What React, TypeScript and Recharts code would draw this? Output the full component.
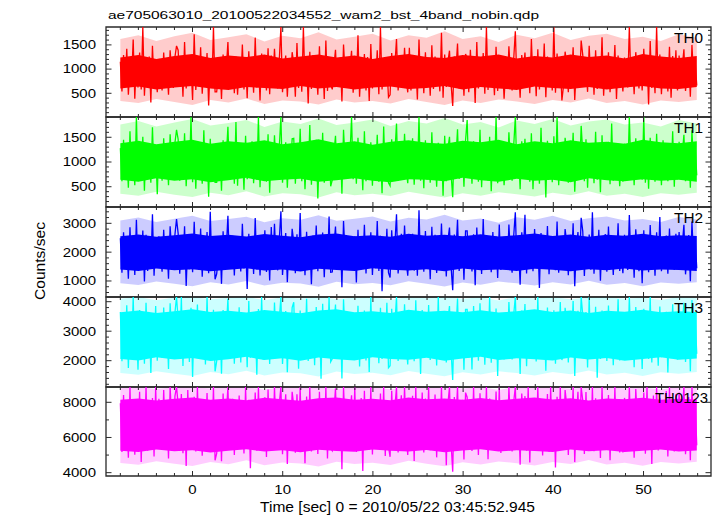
import React from 'react';
import { ComposedChart, Line, Area, XAxis, YAxis, ReferenceArea } from 'recharts';

const FONT = '"Liberation Sans", Arial, Helvetica, sans-serif';
const FRAME = '#2a2a2a';

// time grid (seconds from 2010/05/22 03:45:52.945)
const T0 = -8.0;
const DT = 0.178;
const BAND_T0 = -8.0;
const BAND_DT = 1.997;
const X_DOMAIN: [number, number] = [-9.59, 57.48];
const X_TICKS = [-8, -6, -4, -2, 0, 2, 4, 6, 8, 10, 12, 14, 16, 18, 20, 22, 24, 26, 28, 30, 32, 34, 36, 38, 40, 42, 44, 46, 48, 50, 52, 54, 56];
const X_MAJOR = [0, 10, 20, 30, 40, 50];

const TH0 = [
  1150, 540, 1290, 680, 1420, 470, 1080, 760, 1610, 390, 1230, 620,
  1340, 580, 1870, 450, 1120, 700, 1260, 310, 1480, 650, 1010, 520,
  1210, 880, 560, 1340, 720, 1050, 470, 1390, 940, 610, 1250, 1480,
  1390, 730, 1190, 430, 1560, 600, 1270, 680, 1090, 360, 1720, 570,
  1210, 640, 1450, 490, 1130, 720, 1330, 250, 1180, 610, 1870, 530,
  530, 860, 1170, 380, 1300, 690, 1020, 1560, 640, 910, 1230, 500,
  1260, 470, 1080, 690, 1510, 580, 1240, 400, 1370, 660, 1150, 510,
  1650, 620, 1200, 350, 1320, 740, 1060, 560, 1430, 480, 1280, 700,
  1420, 780, 600, 1190, 1870, 520, 990, 1280, 430, 1110, 730, 1350,
  1110, 430, 1540, 610, 1250, 530, 1870, 660, 1170, 290, 1360, 590,
  1290, 700, 1040, 470, 1470, 620, 1220, 380, 1590, 550, 1140, 680,
  580, 1060, 1400, 690, 820, 1240, 330, 1510, 900, 640, 1180, 1020,
  1380, 510, 1190, 640, 1700, 430, 1100, 710, 1310, 560, 1250, 340,
  1520, 600, 1160, 690, 1390, 480, 1870, 580, 1230, 650, 1070, 420,
  470, 1330, 760, 1090, 1620, 560, 950, 1270, 620, 1440, 810, 520,
  1440, 560, 1280, 730, 1120, 370, 1610, 620, 1210, 500, 1350, 680,
  1180, 450, 1490, 590, 1260, 710, 1050, 540, 1750, 410, 1300, 630,
  1150, 1380, 680, 240, 1260, 970, 1530, 600, 840, 1200, 450, 1310,
  1220, 520, 1400, 670, 1140, 300, 1560, 600, 1190, 720, 1330, 490,
  1870, 570, 1240, 640, 1090, 460, 1460, 550, 1270, 680, 1130, 390,
  1000, 630, 1470, 870, 560, 1220, 1780, 700, 1050, 410, 1290, 930,
  1340, 610, 1190, 500, 1620, 700, 1220, 440, 1410, 580, 1080, 660,
  1530, 420, 1260, 690, 1150, 560, 1870, 510, 1320, 620, 1200, 350,
  650, 1360, 1110, 520, 1190, 800, 1450, 360, 1020, 1270, 690, 1590,
  1290, 640, 1060, 530, 1480, 710, 1240, 470, 1390, 590, 1170, 680,
  1660, 450, 1210, 600, 1350, 520, 1110, 730, 1500, 380, 1280, 640,
  880, 540, 1240, 1030, 620, 1870, 760, 1130, 480, 1350, 940, 600,
  1180, 560, 1420, 690, 1250, 270, 1580, 610, 1140, 500, 1870, 620,
  1300, 480, 1230, 670, 1100, 540, 1460, 410, 1270, 650, 1390, 560,
  1280, 710, 1060, 1410, 550, 920, 1230, 430, 1500, 820, 1160, 660,
];

const TH1 = [
  1280, 610, 1450, 720, 1190, 480, 1620, 690, 1340, 530, 1910, 640,
  1230, 760, 1510, 420, 1380, 650, 1150, 580, 1700, 700, 1260, 350,
  1350, 980, 620, 1480, 760, 1200, 530, 1560, 1010, 680, 1390, 1650,
  1460, 620, 1320, 740, 1580, 510, 1210, 680, 1910, 590, 1300, 460,
  1390, 700, 1170, 560, 1640, 630, 1280, 300, 1470, 710, 1240, 590,
  590, 940, 1300, 420, 1440, 750, 1120, 1710, 700, 1010, 1360, 560,
  1810, 520, 1350, 680, 1200, 440, 1530, 650, 1310, 760, 1420, 570,
  1250, 640, 1910, 490, 1370, 720, 1160, 600, 1560, 380, 1290, 690,
  1540, 850, 660, 1310, 1910, 580, 1090, 1400, 480, 1230, 800, 1470,
  1480, 560, 1220, 730, 1670, 610, 1340, 450, 1190, 660, 1750, 540,
  1320, 700, 1450, 260, 1270, 620, 1590, 580, 1210, 740, 1380, 510,
  640, 1170, 1530, 760, 900, 1360, 360, 1650, 990, 710, 1300, 1120,
  1910, 650, 1300, 560, 1490, 700, 1180, 430, 1620, 610, 1260, 680,
  1400, 520, 1330, 750, 1550, 600, 1240, 370, 1720, 660, 1290, 580,
  520, 1460, 840, 1200, 1780, 620, 1050, 1390, 680, 1570, 890, 570,
  1170, 690, 1480, 540, 1360, 710, 1910, 620, 1250, 470, 1440, 640,
  1310, 580, 1600, 730, 1200, 500, 1390, 660, 1280, 320, 1530, 610,
  1270, 1510, 750, 290, 1380, 1070, 1660, 660, 930, 1320, 500, 1440,
  1850, 680, 1270, 560, 1420, 720, 1190, 600, 1650, 490, 1340, 750,
  1230, 620, 1510, 410, 1300, 690, 1910, 570, 1380, 640, 1160, 530,
  1100, 700, 1600, 960, 620, 1340, 1910, 770, 1160, 450, 1420, 1020,
  1470, 710, 1260, 600, 1580, 450, 1320, 680, 1210, 560, 1690, 640,
  1350, 280, 1430, 700, 1240, 590, 1520, 660, 1910, 530, 1290, 720,
  720, 1490, 1220, 580, 1310, 880, 1590, 400, 1130, 1400, 760, 1730,
  1190, 610, 1460, 480, 1370, 690, 1250, 570, 1610, 640, 1330, 390,
  1540, 660, 1220, 730, 1410, 550, 1780, 620, 1280, 700, 1180, 510,
  970, 600, 1370, 1140, 680, 1910, 840, 1250, 530, 1480, 1040, 660,
  1390, 640, 1910, 580, 1310, 460, 1490, 710, 1240, 600, 1570, 680,
  1260, 530, 1440, 690, 1350, 610, 1200, 720, 1620, 500, 1320, 650,
  1410, 790, 1170, 1550, 610, 1010, 1350, 480, 1640, 900, 1280, 730,
];

const TH2 = [
  2480, 1290, 2690, 1520, 2310, 1080, 2860, 1440, 2550, 1210, 3120, 1390,
  2400, 1560, 2750, 980, 2600, 1350, 2280, 1470, 3310, 1180, 2520, 1620,
  2550, 1900, 1320, 2780, 1560, 2240, 1080, 2900, 2010, 1420, 2610, 3150,
  2650, 1250, 2430, 1500, 2900, 830, 2370, 1410, 2580, 1300, 3050, 1540,
  2290, 1380, 2820, 1150, 2470, 1600, 2700, 1270, 3400, 1450, 2360, 1060,
  1250, 1820, 2480, 900, 2720, 1530, 2130, 3260, 1460, 1950, 2570, 1190,
  2560, 1520, 2410, 1330, 2980, 1430, 2300, 720, 2640, 1560, 2450, 1240,
  3180, 1400, 2530, 1190, 2380, 1580, 2760, 1310, 2490, 1020, 2870, 1480,
  2980, 1700, 1370, 2450, 3420, 1210, 2060, 2660, 960, 2330, 1600, 2810,
  2340, 1270, 2620, 1540, 3360, 1360, 2440, 1200, 2710, 1460, 2390, 890,
  2580, 1510, 2920, 1340, 2310, 1590, 2680, 1130, 2470, 1420, 3240, 1300,
  1310, 2200, 2890, 1510, 1760, 2590, 780, 3080, 1880, 1390, 2470, 2150,
  2420, 1560, 2550, 950, 2780, 1380, 2350, 1490, 2950, 1260, 2500, 1610,
  2690, 1210, 2400, 1440, 3080, 1350, 2570, 640, 2460, 1530, 2810, 1290,
  1120, 2760, 1640, 2280, 3310, 1260, 1990, 2640, 1420, 2920, 1720, 1180,
  2330, 1470, 2640, 1360, 2520, 1180, 3450, 1500, 2390, 1320, 2730, 1570,
  2450, 1060, 2880, 1410, 2600, 1280, 2310, 1550, 2990, 1370, 2480, 1160,
  2420, 2850, 1480, 680, 2610, 2020, 3120, 1350, 1790, 2530, 1040, 2740,
  2740, 1480, 2360, 1330, 2620, 850, 2850, 1520, 2430, 1240, 3150, 1400,
  2510, 1590, 2280, 1300, 2700, 1450, 2540, 1100, 2960, 1380, 2410, 1530,
  2090, 1400, 2960, 1830, 1290, 2580, 3380, 1530, 2180, 870, 2690, 1960,
  3300, 1260, 2590, 1470, 2370, 1340, 2800, 1560, 2450, 760, 2660, 1420,
  2380, 1510, 2910, 1230, 2550, 1600, 2320, 1370, 3060, 1290, 2490, 1460,
  1450, 2800, 2330, 1200, 2520, 1710, 3000, 820, 2150, 2700, 1490, 3190,
  2720, 1170, 2440, 1530, 2610, 1390, 3380, 1250, 2360, 1580, 2780, 1010,
  2470, 1440, 2630, 1320, 2890, 1500, 2300, 1210, 2540, 1570, 3000, 1350,
  1860, 1270, 2600, 2190, 1380, 3290, 1670, 2380, 1110, 2790, 2000, 1340,
  2410, 920, 2760, 1480, 2520, 1300, 2940, 1550, 2380, 1180, 2690, 1420,
  3220, 1340, 2460, 1590, 2580, 1250, 2820, 1470, 2350, 1380, 2640, 1520,
  2700, 1580, 2270, 2950, 1230, 1940, 2590, 990, 3060, 1750, 2450, 1440,
];

const TH3 = [
  3650, 1980, 3420, 2260, 3880, 1750, 3510, 2140, 4159, 2050, 3330, 1690,
  3720, 2200, 3480, 1900, 3960, 2310, 3570, 1580, 3410, 2120, 3850, 2000,
  3560, 2850, 2100, 3800, 2380, 3250, 1720, 3950, 2900, 2200, 3620, 4159,
  3390, 2250, 4159, 1820, 3620, 2170, 3450, 1960, 3790, 1450, 3540, 2230,
  3900, 2080, 3360, 2290, 3680, 1870, 4159, 2150, 3500, 2010, 3730, 1640,
  1980, 2700, 3480, 1560, 3720, 2330, 3090, 4100, 2240, 2880, 3550, 1900,
  3440, 2190, 3810, 1940, 3560, 2270, 3400, 1780, 4020, 2100, 3620, 2240,
  3370, 1520, 3750, 2160, 4159, 2030, 3490, 2300, 3640, 1890, 3420, 2120,
  3970, 2600, 2140, 3430, 4159, 1890, 3000, 3680, 1610, 3320, 2450, 3800,
  3980, 2220, 3530, 1730, 3700, 2060, 3380, 2280, 4100, 1990, 3590, 2150,
  3460, 1850, 3820, 2240, 3550, 1390, 3930, 2090, 3410, 2200, 4159, 1960,
  2060, 3180, 3900, 2360, 2640, 3590, 1400, 4080, 2790, 2160, 3470, 3120,
  3600, 2270, 3390, 2040, 3860, 1800, 3520, 2180, 3700, 2010, 3450, 1620,
  4159, 2130, 3580, 2250, 3430, 1910, 3790, 2060, 3510, 2290, 3960, 1760,
  1830, 3760, 2500, 3280, 4159, 1990, 2950, 3660, 2230, 3910, 2580, 1870,
  3480, 2170, 3660, 1980, 4050, 2230, 3400, 1550, 3720, 2100, 3540, 2270,
  3890, 2020, 3460, 2190, 3630, 1840, 4159, 2140, 3370, 2260, 3580, 1940,
  3400, 3850, 2290, 1350, 3610, 2980, 4110, 2120, 2700, 3520, 1690, 3740,
  3740, 2110, 3420, 1700, 3850, 2280, 3510, 2000, 3950, 2170, 3440, 1860,
  3610, 2250, 4159, 1930, 3490, 2080, 3770, 1480, 3560, 2220, 3390, 2040,
  3050, 2200, 3990, 2760, 2040, 3570, 4159, 2380, 3150, 1550, 3700, 2890,
  3920, 1810, 3540, 2160, 3680, 2300, 3430, 1970, 4159, 2090, 3600, 2210,
  3470, 1660, 3800, 2050, 3520, 2240, 3710, 1900, 3380, 2150, 3990, 2020,
  2270, 3790, 3330, 1940, 3500, 2620, 4020, 1480, 3110, 3690, 2310, 4159,
  3550, 2270, 3650, 1770, 4159, 2110, 3460, 2190, 3830, 1420, 3500, 2060,
  3700, 2230, 3410, 1990, 3870, 2140, 3590, 1850, 3480, 2280, 4080, 2010,
  2810, 2030, 3600, 3170, 2150, 4159, 2530, 3370, 1780, 3820, 2960, 2120,
  3430, 1720, 3760, 2170, 3540, 2060, 4159, 1940, 3620, 2250, 3390, 1830,
  3840, 2120, 3500, 2200, 3660, 1600, 3450, 2080, 3910, 2190, 3570, 2030,
  3700, 2420, 3240, 3960, 1960, 2890, 3580, 1640, 4060, 2670, 3430, 2230,
];

const TH0123 = [
  7950, 5180, 8420, 5560, 7700, 4850, 8870, 5390, 8100, 5020, 7820, 5610,
  8600, 4600, 8030, 5470, 8870, 5250, 7760, 5690, 8250, 4920, 8870, 5350,
  8200, 6900, 5450, 8700, 5900, 7600, 4800, 8870, 7000, 5500, 8350, 8870,
  7880, 5580, 8470, 5100, 8020, 4380, 8700, 5440, 7940, 5630, 8320, 5200,
  8870, 5520, 7830, 4960, 8190, 5660, 8530, 5290, 7750, 5480, 8870, 4700,
  5100, 6600, 8100, 4650, 8500, 5850, 7300, 8870, 5600, 6850, 8200, 5000,
  8060, 5370, 8380, 5610, 7910, 5090, 8870, 5500, 8150, 4250, 7990, 5580,
  8550, 5240, 8870, 5430, 7870, 5670, 8280, 4890, 8720, 5340, 8010, 5560,
  8870, 6300, 5400, 7950, 8870, 5050, 7100, 8450, 4500, 7700, 5950, 8600,
  7800, 5130, 8460, 5600, 8870, 5280, 7950, 4530, 8330, 5490, 8870, 5200,
  8120, 5650, 7860, 5060, 8600, 5410, 8050, 5590, 8870, 4800, 7930, 5360,
  5250, 7400, 8800, 5800, 6350, 8250, 4200, 8870, 6700, 5450, 8050, 7350,
  8400, 5520, 8870, 5170, 7780, 5620, 8240, 4100, 8650, 5450, 8000, 5300,
  8870, 5040, 8170, 5580, 7900, 5390, 8500, 5680, 8870, 4950, 8090, 5470,
  4900, 8650, 6100, 7750, 8870, 5150, 6950, 8400, 5700, 8870, 6200, 5000,
  7970, 5600, 8370, 4660, 8870, 5330, 7820, 5540, 8560, 5150, 8220, 5640,
  8870, 5270, 8030, 5500, 8440, 4870, 7880, 5610, 8870, 5380, 8140, 4420,
  7900, 8870, 5650, 4050, 8300, 7000, 8870, 5350, 6500, 8150, 4750, 8550,
  8290, 5560, 7930, 5230, 8870, 5660, 8070, 5010, 8520, 5440, 7850, 5590,
  8870, 4760, 8210, 5480, 8010, 5310, 8620, 5570, 8870, 5120, 7960, 5650,
  7150, 5500, 8870, 6750, 5200, 8050, 8870, 5800, 7250, 4450, 8500, 6850,
  8350, 5250, 8870, 4580, 7840, 5530, 8180, 5400, 8870, 5690, 8060, 4980,
  7990, 5620, 8470, 5190, 8870, 5460, 7920, 4300, 8310, 5580, 8870, 5330,
  5600, 8700, 7850, 5000, 8000, 6250, 8870, 4600, 7200, 8600, 5750, 8870,
  8100, 5060, 8590, 5640, 7870, 5370, 8870, 5220, 8230, 5510, 8020, 4830,
  8870, 5440, 8130, 5600, 8410, 4700, 7950, 5290, 8870, 5560, 8170, 5150,
  6700, 5150, 8250, 7400, 5450, 8870, 6150, 7900, 4850, 8750, 7050, 5300,
  7900, 5670, 8560, 5080, 8870, 5420, 8040, 4490, 8380, 5610, 8870, 5260,
  8260, 5530, 7980, 5340, 8640, 4920, 8870, 5590, 8090, 5200, 8450, 5620,
  8550, 5900, 7550, 8870, 5050, 6800, 8300, 4700, 8870, 6400, 7900, 5550,
];

// dense core of each light curve (lower / upper edge, every ~2 s)
const TH0_LO = [600, 640, 580, 620, 650, 600, 570, 630, 610, 590, 650, 600, 630, 580, 620, 640, 590, 610, 650, 580, 630, 600, 570, 640, 610, 590, 630, 580, 620, 650, 600, 590, 630];
const TH0_HI = [1240, 1290, 1210, 1270, 1310, 1230, 1280, 1250, 1300, 1220, 1260, 1300, 1240, 1280, 1210, 1270, 1310, 1250, 1230, 1290, 1260, 1300, 1220, 1270, 1240, 1300, 1250, 1280, 1220, 1310, 1260, 1230, 1270];
const TH1_LO = [640, 600, 670, 620, 650, 590, 630, 680, 610, 640, 660, 600, 630, 670, 620, 590, 650, 640, 610, 680, 630, 600, 660, 620, 640, 590, 670, 630, 610, 650, 620, 640, 600];
const TH1_HI = [1380, 1430, 1360, 1410, 1450, 1370, 1420, 1390, 1440, 1360, 1400, 1460, 1380, 1420, 1350, 1410, 1440, 1390, 1370, 1430, 1400, 1450, 1360, 1420, 1380, 1440, 1390, 1410, 1370, 1450, 1400, 1380, 1420];
const TH2_LO = [1400, 1350, 1430, 1370, 1410, 1340, 1390, 1440, 1360, 1400, 1330, 1420, 1380, 1350, 1440, 1390, 1360, 1410, 1340, 1430, 1370, 1400, 1350, 1420, 1390, 1340, 1410, 1370, 1430, 1360, 1400, 1380, 1350];
const TH2_HI = [2550, 2610, 2530, 2590, 2650, 2560, 2600, 2540, 2630, 2570, 2520, 2610, 2650, 2550, 2590, 2530, 2640, 2570, 2600, 2550, 2620, 2540, 2590, 2650, 2560, 2610, 2530, 2600, 2570, 2640, 2550, 2590, 2560];
const TH3_LO = [2060, 2010, 2120, 2040, 2090, 1990, 2050, 2130, 2020, 2080, 2000, 2110, 2050, 2010, 2120, 2060, 2030, 2100, 2000, 2070, 2130, 2020, 2080, 2050, 2010, 2110, 2040, 2090, 2000, 2060, 2120, 2030, 2070];
const TH3_HI = [3640, 3700, 3620, 3680, 3740, 3650, 3690, 3630, 3720, 3660, 3610, 3700, 3740, 3640, 3680, 3620, 3730, 3660, 3690, 3640, 3710, 3630, 3680, 3740, 3650, 3700, 3620, 3690, 3660, 3730, 3640, 3680, 3650];
const TH0123_LO = [5250, 5180, 5320, 5220, 5280, 5150, 5240, 5330, 5200, 5270, 5160, 5300, 5230, 5190, 5320, 5250, 5210, 5290, 5160, 5260, 5330, 5200, 5270, 5230, 5180, 5310, 5220, 5280, 5170, 5250, 5320, 5210, 5260];
const TH0123_HI = [8150, 8220, 8100, 8200, 8280, 8140, 8210, 8120, 8260, 8170, 8090, 8230, 8280, 8150, 8200, 8110, 8270, 8180, 8210, 8140, 8250, 8120, 8200, 8280, 8160, 8230, 8100, 8210, 8170, 8260, 8150, 8200, 8160];

// sparse outer fringe of each light curve (lower / upper edge, every ~2 s)
const TH0_OUT_LO = [340, 300, 380, 320, 260, 360, 310, 390, 280, 350, 330, 270, 370, 310, 340, 290, 380, 320, 260, 350, 300, 370, 330, 280, 360, 310, 390, 300, 340, 270, 350, 320, 360];
const TH0_OUT_HI = [1620, 1700, 1580, 1680, 1750, 1600, 1660, 1720, 1570, 1690, 1640, 1760, 1610, 1670, 1730, 1590, 1700, 1650, 1780, 1620, 1680, 1560, 1710, 1640, 1750, 1600, 1690, 1730, 1620, 1670, 1580, 1720, 1650];
const TH1_OUT_LO = [360, 320, 400, 340, 290, 380, 330, 410, 300, 370, 350, 280, 390, 330, 360, 310, 400, 340, 280, 370, 320, 390, 350, 300, 380, 330, 410, 320, 360, 290, 370, 340, 380];
const TH1_OUT_HI = [1760, 1830, 1720, 1800, 1870, 1740, 1790, 1850, 1710, 1820, 1770, 1880, 1750, 1800, 1860, 1730, 1830, 1780, 1890, 1760, 1810, 1700, 1840, 1770, 1870, 1740, 1820, 1860, 1760, 1800, 1720, 1850, 1780];
const TH2_OUT_LO = [920, 860, 980, 900, 820, 960, 880, 1000, 840, 940, 910, 800, 970, 890, 930, 850, 990, 900, 810, 950, 870, 980, 920, 840, 960, 880, 1010, 870, 930, 820, 950, 900, 960];
const TH2_OUT_HI = [3100, 3200, 3050, 3160, 3260, 3080, 3150, 3230, 3040, 3180, 3120, 3280, 3090, 3160, 3240, 3060, 3190, 3130, 3300, 3100, 3170, 3020, 3210, 3120, 3260, 3080, 3180, 3240, 3100, 3150, 3050, 3220, 3130];
const TH3_OUT_LO = [1580, 1520, 1640, 1560, 1480, 1620, 1540, 1660, 1500, 1600, 1570, 1460, 1630, 1550, 1590, 1510, 1650, 1560, 1470, 1610, 1530, 1640, 1580, 1500, 1620, 1540, 1670, 1530, 1590, 1480, 1610, 1560, 1620];
const TH3_OUT_HI = [4100, 4159, 4050, 4140, 4159, 4080, 4130, 4159, 4060, 4150, 4110, 4159, 4090, 4140, 4159, 4070, 4159, 4120, 4159, 4100, 4150, 4040, 4159, 4110, 4159, 4080, 4150, 4159, 4100, 4130, 4060, 4159, 4120];
const TH0123_OUT_LO = [4550, 4450, 4650, 4500, 4380, 4600, 4480, 4700, 4420, 4580, 4520, 4350, 4620, 4490, 4560, 4430, 4680, 4510, 4370, 4590, 4470, 4640, 4540, 4410, 4610, 4490, 4720, 4460, 4570, 4390, 4600, 4520, 4620];
const TH0123_OUT_HI = [8800, 8870, 8750, 8870, 8870, 8780, 8850, 8870, 8720, 8870, 8820, 8870, 8760, 8870, 8870, 8740, 8870, 8810, 8870, 8790, 8870, 8700, 8870, 8830, 8870, 8770, 8860, 8870, 8790, 8840, 8730, 8870, 8810];

const SERIES = [TH0, TH1, TH2, TH3, TH0123];
const BAND_LO = [TH0_LO, TH1_LO, TH2_LO, TH3_LO, TH0123_LO];
const BAND_HI = [TH0_HI, TH1_HI, TH2_HI, TH3_HI, TH0123_HI];
const OUT_LO = [TH0_OUT_LO, TH1_OUT_LO, TH2_OUT_LO, TH3_OUT_LO, TH0123_OUT_LO];
const OUT_HI = [TH0_OUT_HI, TH1_OUT_HI, TH2_OUT_HI, TH3_OUT_HI, TH0123_OUT_HI];
const PANEL_NAMES = ['TH0', 'TH1', 'TH2', 'TH3', 'TH0123'];
const PANEL_COLORS = ['#ff0000', '#00ff00', '#0000ff', '#00ffff', '#ff00ff'];
const Y_DOMAINS: [number, number][] = [[10, 1870], [90, 1910], [444, 3566], [1108, 4159], [3810, 8870]];
const Y_MAJOR = [[500, 1000, 1500], [500, 1000, 1500], [1000, 2000, 3000], [2000, 3000, 4000], [4000, 6000, 8000]];
const Y_MINOR_STEP = [100, 100, 200, 200, 1000];

const TITLE = 'ae705063010_20100522034552_wam2_bst_4band_nobin.qdp';
const Y_LABEL = 'Counts/sec';
const X_LABEL = 'Time [sec] 0 = 2010/05/22 03:45:52.945';

// layout
const W = 717;
const H = 516;
const PLOT_LEFT = 106;
const PLOT_RIGHT = 711;
const PANEL_TOPS = [27, 117, 207, 297, 387];
const PANEL_H = [90, 90, 90, 90, 89];
const PAD_T = 20;

function minorTicks(dom: [number, number], step: number) {
  const out: number[] = [];
  for (let v = Math.ceil(dom[0] / step) * step; v <= dom[1]; v += step) out.push(v);
  return out;
}

function makeYTick(major: number[]) {
  return (props: any) => {
    const y = props.y;
    const v = props.payload.value;
    const isMajor = major.includes(v);
    const len = isMajor ? 5.5 : 3;
    const label = String(v);
    return (
      <g>
        <line x1={PLOT_LEFT} x2={PLOT_LEFT + len} y1={y} y2={y} stroke={FRAME} strokeWidth={1} />
        <line x1={PLOT_RIGHT - len} x2={PLOT_RIGHT} y1={y} y2={y} stroke={FRAME} strokeWidth={1} />
        {isMajor && (
          <text x={96} y={y + 4.4} textAnchor="end" fontSize={12} fontFamily={FONT} fill="#000"
            textLength={8.33 * label.length} lengthAdjust="spacingAndGlyphs">{label}</text>
        )}
      </g>
    );
  };
}

// top / bottom are in the chart's own coordinates
function makeXTick(top: number, bottom: number, showLabels: boolean) {
  return (props: any) => {
    const x = props.x;
    const v = props.payload.value;
    const isMajor = X_MAJOR.includes(v);
    const len = isMajor ? 5 : 3;
    const label = String(v);
    return (
      <g>
        <line x1={x} x2={x} y1={bottom} y2={bottom - len} stroke={FRAME} strokeWidth={1} />
        <line x1={x} x2={x} y1={top} y2={top + len} stroke={FRAME} strokeWidth={1} />
        {showLabels && isMajor && (
          <text x={x} y={bottom + 17.5} textAnchor="middle" fontSize={12} fontFamily={FONT} fill="#000"
            textLength={8.33 * label.length} lengthAdjust="spacingAndGlyphs">{label}</text>
        )}
      </g>
    );
  };
}

function Panel({ k }: { k: number }) {
  const values = SERIES[k];
  const data = values.map((v, i) => ({ t: T0 + i * DT, v }));
  const band = BAND_LO[k].map((lo, i) => ({ t: BAND_T0 + i * BAND_DT, band: [lo, BAND_HI[k][i]] }));
  const outer = OUT_LO[k].map((lo, i) => ({ t: BAND_T0 + i * BAND_DT, band: [lo, OUT_HI[k][i]] }));
  const top = PANEL_TOPS[k];
  const h = PANEL_H[k];
  const dom = Y_DOMAINS[k];
  const last = k === SERIES.length - 1;
  const padB = last ? 40 : 20;
  const yTicks = minorTicks(dom, Y_MINOR_STEP[k]);
  const color = PANEL_COLORS[k];
  return (
    <div style={{ position: 'absolute', left: 0, top: top - PAD_T }}>
      <ComposedChart width={W} height={h + PAD_T + padB + 1}
        margin={{ top: PAD_T, right: W - PLOT_RIGHT, bottom: padB, left: PLOT_LEFT - 1 }}>
        <XAxis xAxisId="x" dataKey="t" type="number" domain={X_DOMAIN} allowDataOverflow
          ticks={X_TICKS} interval={0} height={1} tickSize={0} tickMargin={0}
          axisLine={false} tickLine={false} tick={makeXTick(PAD_T, PAD_T + h, last)} />
        <YAxis yAxisId="y" type="number" domain={dom} allowDataOverflow
          ticks={yTicks} interval={0} width={1} tickSize={0} tickMargin={0}
          axisLine={false} tickLine={false} tick={makeYTick(Y_MAJOR[k])} />
        <Area xAxisId="x" yAxisId="y" data={outer} type="linear" dataKey="band" stroke="none"
          fill={color} fillOpacity={0.2} isAnimationActive={false} />
        <Area xAxisId="x" yAxisId="y" data={band} type="linear" dataKey="band" stroke="none"
          fill={color} fillOpacity={1} isAnimationActive={false} />
        <Line xAxisId="x" yAxisId="y" data={data} type="linear" dataKey="v" stroke={color}
          strokeWidth={1.3} dot={false} isAnimationActive={false} />
        <ReferenceArea xAxisId="x" yAxisId="y" x1={X_DOMAIN[0]} x2={X_DOMAIN[1]} y1={dom[0]} y2={dom[1]}
          fill="none" fillOpacity={0} stroke={FRAME} strokeWidth={1.3} strokeOpacity={1} ifOverflow="visible" />
      </ComposedChart>
    </div>
  );
}

export default function App() {
  return (
    <div style={{ position: 'absolute', left: 0, top: 0, width: W, height: H, background: '#fff', overflow: 'hidden' }}>
      {SERIES.map((_, k) => <Panel key={k} k={k} />)}
      <svg width={W} height={H} style={{ position: 'absolute', left: 0, top: 0, pointerEvents: 'none' }}>
        <text x={108} y={19} fontSize={11.5} fontFamily={FONT} fill="#000" textLength={431} lengthAdjust="spacingAndGlyphs">{TITLE}</text>
        <text x={45} y={261} fontSize={14} fontFamily={FONT} fill="#000" textAnchor="middle"
          transform="rotate(-90 45 261)" textLength={78} lengthAdjust="spacingAndGlyphs">{Y_LABEL}</text>
        <text x={397.5} y={511.5} fontSize={14} fontFamily={FONT} fill="#000" textAnchor="middle"
          textLength={275} lengthAdjust="spacingAndGlyphs">{X_LABEL}</text>
        {PANEL_NAMES.map((n, k) => (
          <text key={n} x={n.length > 3 ? 655 : 674} y={PANEL_TOPS[k] + 15.7} fontSize={14} fontFamily={FONT} fill="#000"
            textLength={n.length > 3 ? 53 : 29} lengthAdjust="spacingAndGlyphs">{n}</text>
        ))}
      </svg>
    </div>
  );
}
